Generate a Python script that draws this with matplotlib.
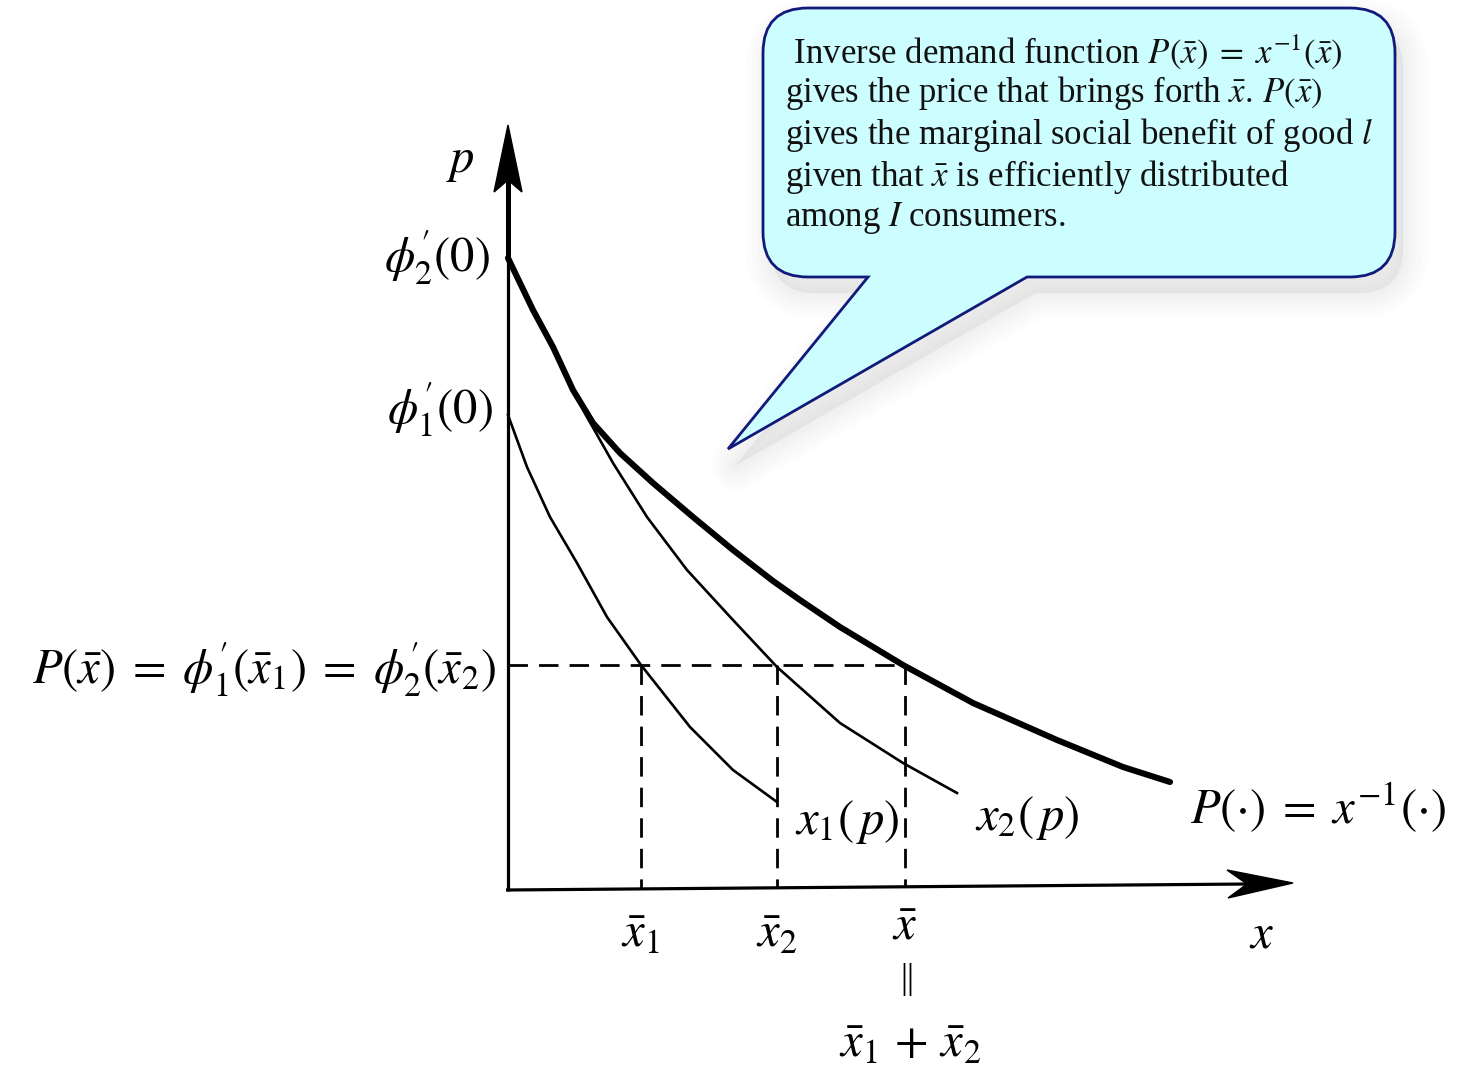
import matplotlib
matplotlib.use("Agg")
import matplotlib.pyplot as plt
from matplotlib.path import Path
from matplotlib.patches import PathPatch, Polygon
from matplotlib.transforms import Affine2D

plt.rcParams['font.family'] = ['Liberation Serif', 'DejaVu Serif']
plt.rcParams['mathtext.fontset'] = 'stix'

# aggregate inverse demand P(.) (quantity, price)
P_q = [0, 25, 45, 65, 85, 112, 145, 185, 225, 265, 292, 332, 395, 465, 549, 615, 662]
P_p = [632, 580, 543, 500, 467, 437, 407, 373, 340, 309, 290, 263, 225, 187, 150, 123, 108]

# consumer 2 demand x2(p)
x2_q = [0, 25, 45, 65, 79, 105, 139, 179, 225, 269, 332, 395, 449]
x2_p = [632, 580, 543, 500, 473, 427, 373, 320, 270, 223, 167, 127, 97]

# consumer 1 demand x1(p)
x1_q = [0, 19, 42, 69, 99, 133, 182, 225, 269]
x1_p = [475, 423, 373, 327, 273, 225, 163, 120, 88]

# equilibrium price and quantities
p_bar = 225
xbar_1 = 133
xbar_2 = 269
xbar = 397

fig = plt.figure(figsize=(14.76, 10.67), dpi=100)
ax = fig.add_axes([0, 0, 1, 1])
ax.set_xlim(-508, 968)
ax.set_ylim(-177, 890)
ax.axis('off')

# axes of the diagram
ax.plot([0, 0], [-1, 632], color='black', lw=2.3, solid_capstyle='butt')
ax.plot([0, 0], [632, 712], color='black', lw=3.6, solid_capstyle='butt')
ax.add_patch(Polygon([(0, 765), (-14, 698), (0, 710), (14, 698)],
                     closed=True, fc='black', ec='black', lw=1))
ax.plot([-2, 742], [0, 6], color='black', lw=2.3, solid_capstyle='butt')
ax.add_patch(Polygon([(785, 7), (719, 20), (739, 6), (720, -8)],
                     closed=True, fc='black', ec='black', lw=1))

# demand curves
ax.plot(x1_q, x1_p, color='black', lw=1.9, solid_joinstyle='round')
ax.plot(x2_q, x2_p, color='black', lw=1.9, solid_joinstyle='round')
ax.plot(P_q, P_p, color='black', lw=4.4, solid_capstyle='round',
        solid_joinstyle='round')

# dashed guides
dash = dict(color='black', lw=2.0, linestyle=(0, (7, 4)))
ax.plot([0, xbar], [p_bar, p_bar], **dash)
for q in [xbar_1, xbar_2, xbar]:
    ax.plot([q, q], [p_bar, q * 6 / 742], **dash)

# labels
lab = dict(color='black', fontsize=35)
ax.text(-48, 728, r'$p$', ha='center', va='center', **lab)
ax.text(-18, 632, r"$\phi^{\prime}_{2}(0)$", ha='right', va='center', **lab)
ax.text(-15, 480, r"$\phi^{\prime}_{1}(0)$", ha='right', va='center', **lab)
ax.text(-12, 220,
        r"$P(\bar{x})\;=\;\phi^{\prime}_{1}(\bar{x}_1)\;=\;\phi^{\prime}_{2}(\bar{x}_2)$",
        ha='right', va='center', **lab)
ax.text(xbar_1, -45, r'$\bar{x}_1$', ha='center', va='center', **lab)
ax.text(xbar_2, -45, r'$\bar{x}_2$', ha='center', va='center', **lab)
ax.text(xbar, -37, r'$\bar{x}$', ha='center', va='center', **lab)
ax.text(xbar + 2, -90, '||', ha='center', va='center', fontsize=25)
ax.text(xbar + 5, -155, r'$\bar{x}_1\,+\,\bar{x}_2$', ha='center', va='center', **lab)
ax.text(754, -45, r'$x$', ha='center', va='center', **lab)
ax.text(287, 68, r'$x_1(\,p)$', ha='left', va='center', **lab)
ax.text(467, 72, r'$x_2(\,p)$', ha='left', va='center', **lab)
ax.text(682, 82, r'$P(\cdot)\;=\;x^{-1}(\cdot)$', ha='left', va='center', **lab)

# callout bubble
x0, x1, y0, y1, r = 255, 887, 613, 882, 45
b1, b2, tip = 360, 519, (220, 441)
verts = [(x0 + r, y1), (x1 - r, y1), (x1, y1), (x1, y1 - r), (x1, y0 + r),
         (x1, y0), (x1 - r, y0), (b2, y0), tip, (b1, y0), (x0 + r, y0),
         (x0, y0), (x0, y0 + r), (x0, y1 - r), (x0, y1), (x0 + r, y1),
         (x0 + r, y1)]
codes = [Path.MOVETO, Path.LINETO, Path.CURVE3, Path.CURVE3, Path.LINETO,
         Path.CURVE3, Path.CURVE3, Path.LINETO, Path.LINETO, Path.LINETO,
         Path.LINETO, Path.CURVE3, Path.CURVE3, Path.LINETO, Path.CURVE3,
         Path.CURVE3, Path.CLOSEPOLY]
bubble = Path(verts, codes)

# soft drop shadow under the bubble
shift = Affine2D().translate(8, -16) + ax.transData
for w in [36, 28, 20, 13, 7, 2]:
    ax.add_patch(PathPatch(bubble, fc='#a0a0a0', ec='#a0a0a0', lw=w,
                           alpha=0.022, transform=shift, joinstyle='round'))
ax.add_patch(PathPatch(bubble, fc='#ccfdff', ec='#111a7a', lw=2.0,
                       joinstyle='miter'))

lines = [r' Inverse demand function $P(\bar{x})\;=\;x^{-1}(\bar{x})$',
         r'gives the price that brings forth $\bar{x}.\,P(\bar{x})$',
         r'gives the marginal social benefit of good $l$',
         r'given that $\bar{x}$ is efficiently distributed',
         r'among $I$ consumers.']
for i, s in enumerate(lines):
    ax.text(277, 838 - 41.5 * i, s, ha='left', va='center', fontsize=25,
            color='#111111')

fig.savefig('out.png', dpi=100)
